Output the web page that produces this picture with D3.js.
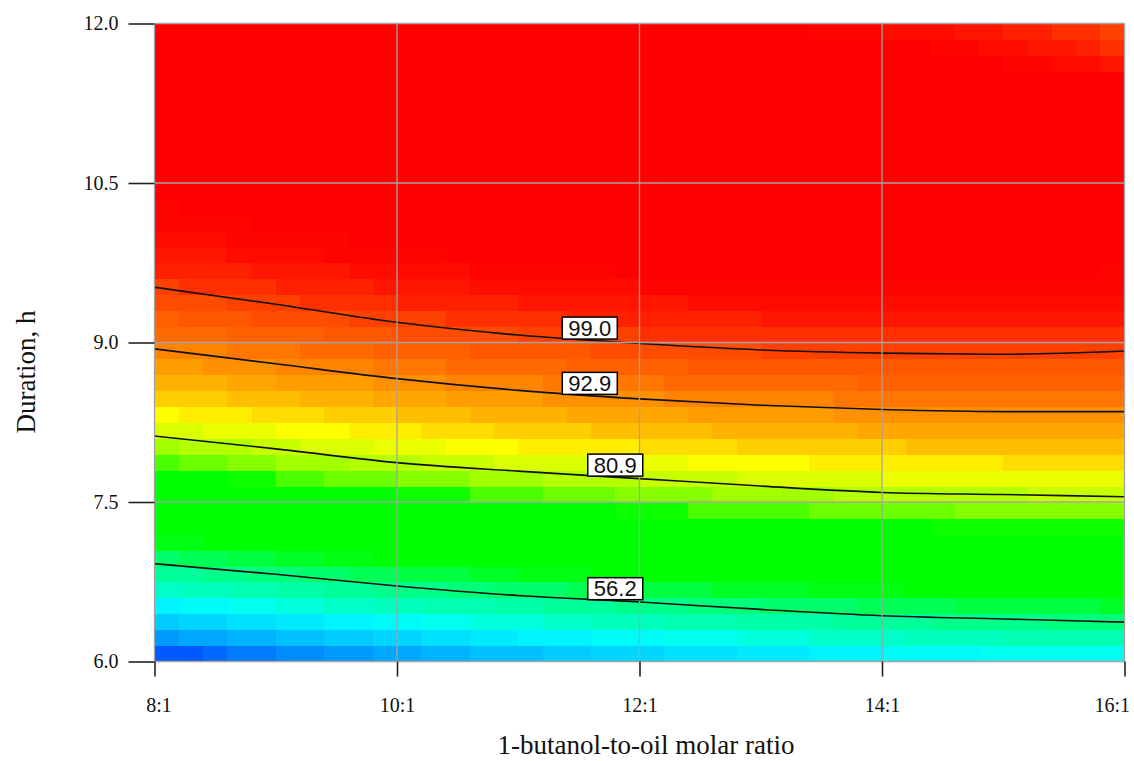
<!DOCTYPE html>
<html><head><meta charset="utf-8">
<script src="https://cdn.jsdelivr.net/npm/d3@7"></script>
<style>html,body{margin:0;padding:0;background:#fff;} svg{display:block;}</style>
</head><body>
<svg id="chart" width="1134" height="761"></svg>
<script>
// ---------- data ----------
const ratioTicks = [8, 10, 12, 14, 16];
const ratioTickLabels = ["8:1", "10:1", "12:1", "14:1", "16:1"];
const durationTicks = [6.0, 7.5, 9.0, 10.5, 12.0];

// cell edges of the response-surface grid (40 x 40 cells)
const ratioEdges = [8,8.2,8.4,8.6,8.8,9,9.2,9.4,9.6,9.8,10,10.2,10.4,10.6,10.8,11,11.2,11.4,11.6,11.8,12,12.2,12.4,12.6,12.8,13,13.2,13.4,13.6,13.8,14,14.2,14.4,14.6,14.8,15,15.2,15.4,15.6,15.8,16];
const durationEdges = [6,6.15,6.3,6.45,6.6,6.75,6.9,7.05,7.2,7.35,7.5,7.65,7.8,7.95,8.1,8.25,8.4,8.55,8.7,8.85,9,9.15,9.3,9.45,9.6,9.75,9.9,10.05,10.2,10.35,10.5,10.65,10.8,10.95,11.1,11.25,11.4,11.55,11.7,11.85,12];

// estimated yield (%) per cell, rows from 6.0 h (bottom) to 12.0 h (top)
const yieldRows = [
[34,34,35,36,36,37,37,38,38,39,39,40,40,41,41,41,42,42,43,43,43,44,44,44,45,45,45,46,46,46,47,47,47,47,48,48,48,48,48,48],
[38,39,39,40,40,41,41,42,42,43,43,44,44,45,45,46,46,46,47,47,47,48,48,48,49,49,49,50,50,50,50,51,51,51,51,52,52,52,52,52],
[42,43,43,44,44,45,45,46,46,47,47,48,48,49,49,49,50,50,51,51,51,52,52,52,53,53,53,53,54,54,54,54,55,55,55,55,55,56,56,56],
[46,47,47,48,48,49,49,50,50,51,51,52,52,52,53,53,54,54,54,55,55,55,56,56,56,57,57,57,57,58,58,58,58,59,59,59,59,59,59,60],
[50,51,51,52,52,53,53,54,54,55,55,55,56,56,57,57,57,58,58,58,59,59,59,60,60,60,60,61,61,61,61,62,62,62,62,62,63,63,63,63],
[54,54,55,55,56,56,57,57,58,58,59,59,59,60,60,61,61,61,62,62,62,63,63,63,63,64,64,64,64,65,65,65,65,65,66,66,66,66,66,66],
[57,58,58,59,59,60,60,61,61,62,62,62,63,63,64,64,64,65,65,65,66,66,66,66,67,67,67,67,68,68,68,68,68,69,69,69,69,69,69,69],
[61,61,62,62,63,63,64,64,65,65,65,66,66,67,67,67,68,68,68,69,69,69,69,70,70,70,70,71,71,71,71,71,72,72,72,72,72,72,72,72],
[64,65,65,66,66,67,67,67,68,68,69,69,69,70,70,70,71,71,71,72,72,72,73,73,73,73,73,74,74,74,74,74,75,75,75,75,75,75,75,75],
[68,68,68,69,69,70,70,71,71,71,72,72,73,73,73,74,74,74,74,75,75,75,76,76,76,76,76,77,77,77,77,77,77,78,78,78,78,78,78,78],
[71,71,72,72,72,73,73,74,74,74,75,75,75,76,76,76,77,77,77,78,78,78,78,79,79,79,79,79,80,80,80,80,80,80,80,80,81,81,81,81],
[74,74,74,75,75,76,76,77,77,77,78,78,78,79,79,79,80,80,80,80,81,81,81,81,82,82,82,82,82,82,83,83,83,83,83,83,83,83,83,83],
[76,77,77,78,78,79,79,79,80,80,80,81,81,81,82,82,82,82,83,83,83,83,84,84,84,84,84,85,85,85,85,85,85,85,85,86,86,86,86,86],
[79,80,80,80,81,81,82,82,82,83,83,83,84,84,84,85,85,85,85,85,86,86,86,86,87,87,87,87,87,87,87,88,88,88,88,88,88,88,88,88],
[82,82,83,83,83,84,84,84,85,85,85,86,86,86,87,87,87,87,88,88,88,88,88,89,89,89,89,89,89,90,90,90,90,90,90,90,90,90,90,90],
[84,85,85,85,86,86,86,87,87,87,88,88,88,89,89,89,89,90,90,90,90,90,91,91,91,91,91,91,92,92,92,92,92,92,92,92,92,92,92,92],
[87,87,87,88,88,88,89,89,89,90,90,90,91,91,91,91,92,92,92,92,92,93,93,93,93,93,93,93,94,94,94,94,94,94,94,94,94,94,94,94],
[89,89,89,90,90,91,91,91,91,92,92,92,93,93,93,93,94,94,94,94,94,95,95,95,95,95,95,95,95,96,96,96,96,96,96,96,96,96,96,96],
[91,91,92,92,92,93,93,93,93,94,94,94,95,95,95,95,95,96,96,96,96,96,97,97,97,97,97,97,97,97,97,97,97,97,97,97,97,97,97,97],
[93,93,93,94,94,94,95,95,95,96,96,96,96,97,97,97,97,97,98,98,98,98,98,98,98,99,99,99,99,99,99,99,99,99,99,99,99,99,99,99],
[95,95,95,96,96,96,96,97,97,97,98,98,98,98,98,99,99,99,99,99,100,100,100,100,100,100,100,100,100,100,100,100,100,100,100,100,100,100,100,100],
[96,97,97,97,98,98,98,98,99,99,99,99,100,100,100,100,100,101,101,101,101,101,101,101,101,102,102,102,102,102,102,102,102,102,102,102,102,102,102,102],
[98,98,98,99,99,99,100,100,100,100,101,101,101,101,101,102,102,102,102,102,102,102,103,103,103,103,103,103,103,103,103,103,103,103,103,103,103,103,103,103],
[99,100,100,100,100,101,101,101,101,102,102,102,102,103,103,103,103,103,103,103,104,104,104,104,104,104,104,104,104,104,104,104,104,104,104,104,104,104,104,104],
[101,101,101,101,102,102,102,102,103,103,103,103,103,104,104,104,104,104,104,105,105,105,105,105,105,105,105,105,105,105,105,105,105,105,105,105,105,105,105,104],
[102,102,102,103,103,103,103,104,104,104,104,104,105,105,105,105,105,105,105,105,106,106,106,106,106,106,106,106,106,106,106,106,106,106,106,106,106,105,105,105],
[103,103,103,104,104,104,104,104,105,105,105,105,105,106,106,106,106,106,106,106,106,106,106,107,107,107,107,107,107,107,107,107,106,106,106,106,106,106,106,106],
[104,104,104,104,105,105,105,105,105,106,106,106,106,106,106,107,107,107,107,107,107,107,107,107,107,107,107,107,107,107,107,107,107,107,107,107,107,107,106,106],
[104,105,105,105,105,106,106,106,106,106,107,107,107,107,107,107,107,107,107,108,108,108,108,108,108,108,108,108,108,108,108,108,107,107,107,107,107,107,107,107],
[105,105,106,106,106,106,106,107,107,107,107,107,107,108,108,108,108,108,108,108,108,108,108,108,108,108,108,108,108,108,108,108,108,108,108,107,107,107,107,107],
[106,106,106,106,107,107,107,107,107,107,108,108,108,108,108,108,108,108,108,108,108,108,108,108,108,108,108,108,108,108,108,108,108,108,108,108,107,107,107,107],
[106,106,106,107,107,107,107,107,108,108,108,108,108,108,108,108,108,108,108,109,109,109,109,109,109,109,108,108,108,108,108,108,108,108,108,108,107,107,107,107],
[106,107,107,107,107,107,107,108,108,108,108,108,108,108,108,108,108,109,109,109,109,109,109,109,109,108,108,108,108,108,108,108,108,108,108,107,107,107,107,107],
[107,107,107,107,107,107,108,108,108,108,108,108,108,108,108,108,108,108,108,109,109,109,108,108,108,108,108,108,108,108,108,108,108,107,107,107,107,107,107,106],
[107,107,107,107,107,107,108,108,108,108,108,108,108,108,108,108,108,108,108,108,108,108,108,108,108,108,108,108,108,108,108,107,107,107,107,107,107,106,106,106],
[106,107,107,107,107,107,107,107,108,108,108,108,108,108,108,108,108,108,108,108,108,108,108,108,108,108,108,107,107,107,107,107,107,107,106,106,106,106,106,105],
[106,106,106,107,107,107,107,107,107,107,107,107,107,108,108,108,108,108,108,108,108,107,107,107,107,107,107,107,107,107,107,106,106,106,106,106,105,105,105,105],
[106,106,106,106,106,106,107,107,107,107,107,107,107,107,107,107,107,107,107,107,107,107,107,107,107,107,106,106,106,106,106,106,105,105,105,104,104,103,103,102],
[105,105,106,106,106,106,106,106,106,106,106,106,106,106,106,106,106,106,106,106,106,106,106,106,106,106,106,105,105,105,105,105,104,104,103,103,102,102,101,100],
[105,105,105,105,105,105,105,105,105,106,106,106,106,106,106,106,106,106,105,105,105,105,105,105,105,105,105,104,104,104,103,103,103,102,102,101,101,100,100,99]
];

// contour lines: duration (h) read at each molar ratio
const contourRatios = [8, 9, 10, 11, 12, 13, 14, 15, 16];
const contourLevels = ["99.0", "92.9", "80.9", "56.2"];
const contour99 = [9.52, 9.36, 9.19, 9.07, 8.99, 8.93, 8.90, 8.89, 8.92];
const contour929 = [8.94, 8.80, 8.66, 8.55, 8.47, 8.41, 8.37, 8.35, 8.35];
const contour809 = [8.12, 8.00, 7.87, 7.79, 7.72, 7.65, 7.59, 7.57, 7.55];
const contour562 = [6.92, 6.82, 6.71, 6.62, 6.56, 6.49, 6.43, 6.40, 6.37];
const labelRatios = [11.59, 11.59, 11.80, 11.80];

const xTitle = "1-butanol-to-oil molar ratio";
const yTitle = "Duration, h";

// ---------- styling ----------
const colorStops = [33.5, 37.8, 42, 46, 48, 50, 53.6, 57.2, 61, 62, 74.8, 76.2, 78.9, 81.5, 84, 86.3, 88.5, 90.6, 92.5, 94.4, 96.1, 97.6, 99.1, 100.4, 101.6, 102.6, 103.5, 104.3];
const colorRange = ["#0050ff","#0098ff","#00ccff","#00f4ff","#00fff0","#00ffc8","#00ffa0","#00ff68","#00ff10","#00ff00","#00ff00","#58ff00","#a0ff00","#d0ff00","#ffff00","#ffd800","#ffb800","#ffa000","#ff8c00","#ff7000","#ff6000","#ff5000","#ff4000","#ff2800","#ff1800","#ff1000","#ff0800","#ff0000"];
const color = d3.scaleLinear().domain(colorStops).range(colorRange).clamp(true);

const svg = d3.select("#chart");
const x = d3.scaleLinear().domain([8, 16]).range([154.5, 1124.5]);
const y = d3.scaleLinear().domain([6, 12]).range([661.5, 23.5]);

svg.append("defs").append("clipPath").attr("id", "plotclip")
  .append("rect").attr("x", x(8)).attr("y", y(12)).attr("width", x(16) - x(8)).attr("height", y(6) - y(12));

const plot = svg.append("g").attr("clip-path", "url(#plotclip)");

// cells
const cells = [];
yieldRows.forEach((row, k) => row.forEach((v, j) => cells.push({k, j, v})));
plot.append("g").attr("shape-rendering", "crispEdges")
  .selectAll("rect").data(cells).join("rect")
  .attr("x", d => x(ratioEdges[d.j]))
  .attr("y", d => y(durationEdges[d.k + 1]))
  .attr("width", d => x(ratioEdges[d.j + 1]) - x(ratioEdges[d.j]) + 0.7)
  .attr("height", d => y(durationEdges[d.k]) - y(durationEdges[d.k + 1]) + 0.7)
  .attr("fill", d => color(d.v));

// grid lines
const grid = svg.append("g").attr("stroke", "#a3a3a3").attr("stroke-width", 1.3);
grid.selectAll("line.v").data(ratioTicks).join("line").attr("class", "v")
  .attr("x1", d => x(d)).attr("x2", d => x(d)).attr("y1", y(12)).attr("y2", y(6));
grid.selectAll("line.h").data(durationTicks).join("line").attr("class", "h")
  .attr("y1", d => y(d)).attr("y2", d => y(d)).attr("x1", x(8)).attr("x2", x(16));

// contour lines
const contourSets = [contour99, contour929, contour809, contour562];
const line = d3.line().x(d => x(d[0])).y(d => y(d[1])).curve(d3.curveMonotoneX);
plot.append("g").selectAll("path").data(contourSets).join("path")
  .attr("d", ys => line(contourRatios.map((r, i) => [r, ys[i]])))
  .attr("fill", "none").attr("stroke", "#111").attr("stroke-width", 1.6);

// contour labels
const labels = svg.append("g");
contourSets.forEach((ys, i) => {
  const interp = d3.scaleLinear().domain(contourRatios).range(ys);
  const lx = x(labelRatios[i]);
  const ly = y(interp(labelRatios[i]));
  const w = 55, h = 22;
  const g = labels.append("g");
  g.append("rect").attr("x", lx - w / 2).attr("y", ly - h - 1).attr("width", w).attr("height", h)
    .attr("fill", "#fff").attr("stroke", "#000").attr("stroke-width", 1.5);
  g.append("text").attr("x", lx).attr("y", ly - 4.5).attr("text-anchor", "middle")
    .attr("font-family", "'Liberation Sans', Arial, sans-serif").attr("font-size", 22)
    .attr("fill", "#111").text(contourLevels[i]);
});

// axes
const yAxis = d3.axisLeft(y).tickValues(durationTicks).tickFormat(d3.format(".1f")).tickSize(26).tickPadding(10);
const gy = svg.append("g").attr("transform", `translate(${x(8)},0)`).call(yAxis);
const xAxis = d3.axisBottom(x).tickValues(ratioTicks).tickFormat((d, i) => ratioTickLabels[i]).tickSize(15).tickPadding(21);
const gx = svg.append("g").attr("transform", `translate(0,${y(6)})`).call(xAxis);
[gx, gy].forEach(g => {
  g.select(".domain").remove();
  g.selectAll(".tick line").attr("stroke", "#222").attr("stroke-width", 1.6);
  g.selectAll(".tick text").attr("font-family", "'Liberation Serif', 'Times New Roman', serif")
    .attr("font-size", 20).attr("fill", "#111");
});
// keep the first and last x labels inside the canvas, as in the reference
gx.selectAll(".tick text").filter((d, i) => i === 0).attr("dx", 4);
gx.selectAll(".tick text").filter((d, i) => i === ratioTicks.length - 1)
  .attr("text-anchor", "end").attr("dx", 5);

// titles
svg.append("text").attr("x", 646).attr("y", 754).attr("text-anchor", "middle")
  .attr("font-family", "'Liberation Serif', 'Times New Roman', serif").attr("font-size", 27)
  .attr("fill", "#111").text(xTitle);
svg.append("text").attr("transform", "translate(35,372) rotate(-90)").attr("text-anchor", "middle")
  .attr("font-family", "'Liberation Serif', 'Times New Roman', serif").attr("font-size", 27)
  .attr("fill", "#111").text(yTitle);
</script>
</body></html>
